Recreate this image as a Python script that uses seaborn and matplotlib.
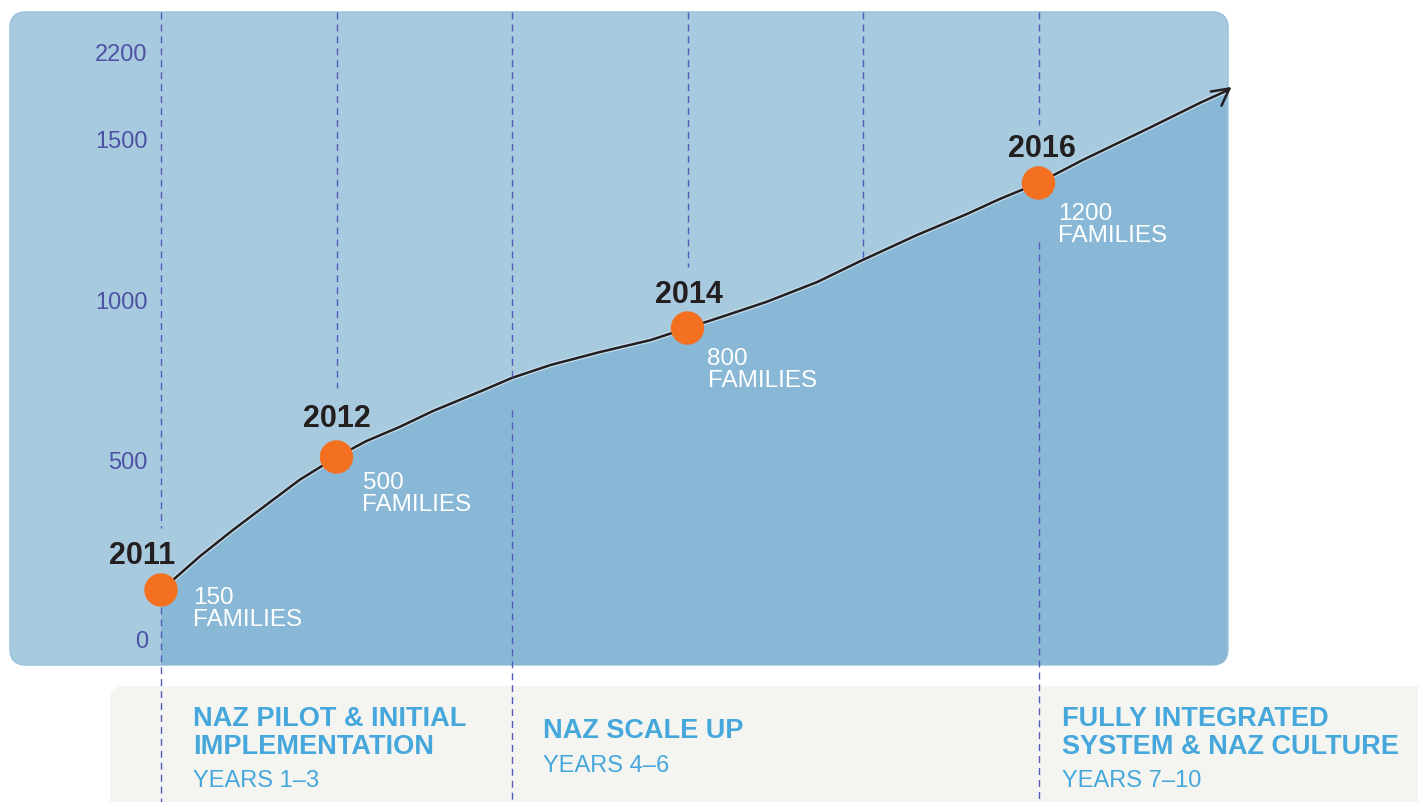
import numpy as np
import pandas as pd
import matplotlib
matplotlib.use("Agg")
import matplotlib.pyplot as plt
import seaborn as sns
from matplotlib.patches import FancyBboxPatch

# milestones
years = [2011, 2012, 2014, 2016]
families = [150, 500, 800, 1200]
year_labels = ["2011", "2012", "2014", "2016"]
family_labels = ["150\nFAMILIES", "500\nFAMILIES", "800\nFAMILIES", "1200\nFAMILIES"]

# trend line (goes through the milestones)
trend_years = [2011, 2011.08, 2011.22, 2011.41, 2011.60, 2011.79, 2012,
               2012.17, 2012.36, 2012.55, 2012.84, 2013.0, 2013.22, 2013.50,
               2013.79, 2014, 2014.19, 2014.45, 2014.74, 2015.0, 2015.31,
               2015.59, 2015.78, 2016, 2016.25, 2016.64, 2016.92, 2017.07]
trend_values = [150, 181, 238, 308, 374, 440, 500,
                537, 570, 607, 656, 684, 714, 744,
                772, 800, 830, 872, 927, 988, 1057,
                1114, 1156, 1200, 1263, 1354, 1421, 1454]
arrow_tip = (2017.10, 1465)

# y labels as printed in the picture (the printed axis is not to scale)
tick_values = [21, 490, 877, 1321, 1560]
tick_labels = ["0", "500", "1000", "1500", "2200"]

phase_titles = ["NAZ PILOT & INITIAL\nIMPLEMENTATION", "NAZ SCALE UP",
                "FULLY INTEGRATED\nSYSTEM & NAZ CULTURE"]
phase_years = ["YEARS 1–3", "YEARS 4–6", "YEARS 7–10"]

W, H = 1418, 802
LIGHT = "#a8cadf"
DARK = "#88b8d6"
ORANGE = "#f37021"
INK = "#231f20"
PURPLE = "#4d52a3"
DASH = "#555bbb"
SKY = "#45a7dc"

sns.set_theme(style="white")
plt.rcParams["font.family"] = ["Liberation Sans", "DejaVu Sans"]

# the drawing stretches its value axis between milestones, so use a
# piecewise scale anchored on the milestone heights (pixel rows)
anchor_v = np.array(families, float)
anchor_px = np.array([590, 457, 328, 183], float)
s_lo = (anchor_px[0] - anchor_px[1]) / (anchor_v[1] - anchor_v[0])
s_hi = (anchor_px[-2] - anchor_px[-1]) / (anchor_v[-1] - anchor_v[-2])


def fwd(v):
    v = np.asarray(v, float)
    out = np.interp(v, anchor_v, -anchor_px)
    out = np.where(v < anchor_v[0], -anchor_px[0] + (v - anchor_v[0]) * s_lo, out)
    out = np.where(v > anchor_v[-1], -anchor_px[-1] + (v - anchor_v[-1]) * s_hi, out)
    return out


def inv(p):
    p = np.asarray(p, float)
    out = np.interp(p, -anchor_px, anchor_v)
    out = np.where(p < -anchor_px[0], anchor_v[0] + (p + anchor_px[0]) / s_lo, out)
    out = np.where(p > -anchor_px[-1], anchor_v[-1] + (p + anchor_px[-1]) / s_hi, out)
    return out


def px2v(y):
    return float(inv(-y))


def px2yr(x):
    return 2011 + (x - 161) / 175.5


fig = plt.figure(figsize=(W / 100, H / 100), dpi=100)

# background layer in pixel coordinates
bg = fig.add_axes([0, 0, 1, 1])
bg.set_xlim(0, W)
bg.set_ylim(H, 0)
bg.axis("off")
box = FancyBboxPatch((10, 12), 1218, 653, boxstyle="round,pad=0,rounding_size=16",
                     fc=LIGHT, ec="#96c0dc", lw=1, zorder=0)
bg.add_patch(box)
panel = FancyBboxPatch((110, 686), 1400, 200, boxstyle="round,pad=0,rounding_size=14",
                       fc="#f4f5f0", ec="none", zorder=0)
bg.add_patch(panel)

bg.text(752, 531, "NAZ ENROLLED FAMILIES", fontsize=20.5, fontweight="bold",
        color=PURPLE, ha="left", va="baseline", zorder=1)

title_x = [193, 543, 1062]
title_top = [706, 718, 706]
years_base = [787, 772, 787]
for tx, tt, yb, t, yr in zip(title_x, title_top, years_base, phase_titles, phase_years):
    bg.text(tx, tt, t, fontsize=19.5, fontweight="bold", color=SKY,
            ha="left", va="top", linespacing=1.08)
    bg.text(tx, yb, yr, fontsize=17, color=SKY, ha="left", va="baseline")

# main chart layer
ax = fig.add_axes([161 / W, 1 - 665 / H, (1228 - 161) / W, (665 - 12) / H])
ax.patch.set_alpha(0)
ax.set_yscale("function", functions=(fwd, inv))
ax.set_xlim(2011, px2yr(1228))
ax.set_ylim(px2v(665), px2v(12))
for s in ax.spines.values():
    s.set_visible(False)

trend = pd.DataFrame({"year": trend_years, "families": trend_values})
milestones = pd.DataFrame({"year": years, "families": families})

area = ax.fill_between(trend["year"], trend["families"], px2v(700), color=DARK,
                       lw=0, zorder=1)
area.set_clip_path(box)

# dashed year guides (broken where labels sit)
guides = {2011: [(12, 528), (607, 802)], 2012: [(12, 388)],
          2013: [(12, 377), (410, 802)], 2014: [(12, 267)],
          2015: [(12, 259)], 2016: [(12, 125), (242, 802)]}
for yr, segs in guides.items():
    for y0, y1 in segs:
        ax.plot([yr, yr], [px2v(y0), px2v(y1)], color=DASH, lw=1.0,
                ls=(0, (5, 3.6)), clip_on=False, zorder=4)

# faint highlight along the lower edge of the line
ax.plot(trend["year"], trend["families"], color="#c4dcec", lw=3.6, zorder=2,
        solid_capstyle="round", solid_joinstyle="round")
sns.lineplot(data=trend, x="year", y="families", ax=ax, color=INK, lw=1.8,
             zorder=3, sort=True, solid_joinstyle="round")
ax.lines[-1].set_clip_on(False)
ax.annotate("", xy=arrow_tip, xytext=(trend_years[-1], trend_values[-1]),
            arrowprops=dict(arrowstyle="->,head_length=0.6,head_width=0.32",
                            lw=1.8, color=INK, shrinkA=0, shrinkB=0,
                            mutation_scale=20),
            annotation_clip=False, zorder=3)

sns.scatterplot(data=milestones, x="year", y="families", ax=ax, s=580,
                color=ORANGE, edgecolor="none", zorder=6, legend=False)
ax.collections[-1].set_clip_on(False)

year_off = [(-19, 26), (0, 30), (1, 25), (3, 26)]
fam_off = [(32, 3), (26, -15), (20, -20), (20, -20)]
for i in range(len(years)):
    dx, dy = year_off[i]
    ax.annotate(year_labels[i], (years[i], families[i]),
                xytext=(dx * 0.72, dy * 0.72), textcoords="offset points",
                ha="center", va="baseline", fontsize=22, fontweight="bold",
                color=INK, annotation_clip=False, zorder=7)
    dx, dy = fam_off[i]
    ax.annotate(family_labels[i], (years[i], families[i]),
                xytext=(dx * 0.72, dy * 0.72), textcoords="offset points",
                ha="left", va="top", fontsize=17.5, color="white",
                linespacing=1.0, annotation_clip=False, zorder=7)

ax.set_xticks([])
ax.set_yticks(tick_values, tick_labels)
ax.yaxis.set_minor_locator(matplotlib.ticker.NullLocator())
ax.tick_params(axis="y", length=0, pad=9.5, labelsize=17, labelcolor=PURPLE)
ax.set_xlabel("")
ax.set_ylabel("")

fig.savefig("out.png", dpi=100)
